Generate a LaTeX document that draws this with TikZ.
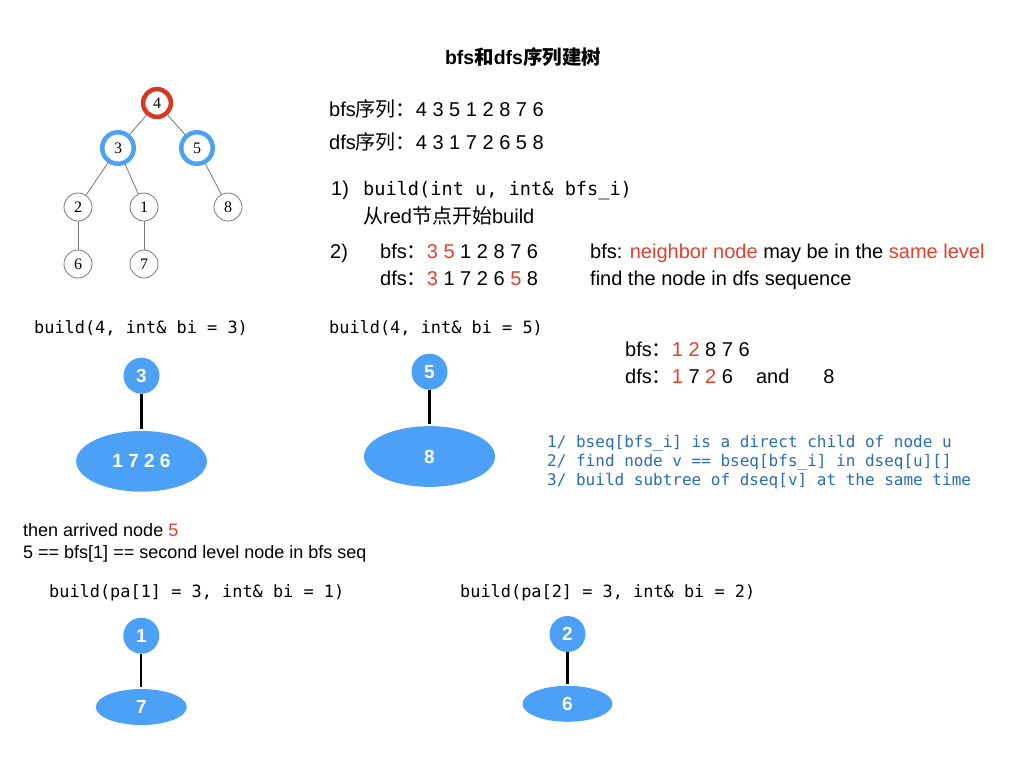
\documentclass[tikz,border=0pt]{standalone}
\usepackage{fontspec}
\setmainfont{Liberation Sans}
\setmonofont{DejaVu Sans Mono}
\newfontfamily\cjk{Noto Sans CJK SC}
\newfontfamily\treeserif{Liberation Serif}
\usetikzlibrary{shapes.geometric}
\definecolor{myred}{RGB}{226,64,44}
\definecolor{ringred}{RGB}{215,55,35}
\definecolor{myblue}{RGB}{76,161,246}
\definecolor{codeblue}{RGB}{44,108,178}
\definecolor{treegray}{RGB}{120,120,120}
\newcommand{\zh}[1]{{\cjk #1}}
\newcommand{\rd}[1]{\textcolor{myred}{#1}}
\begin{document}
\begin{tikzpicture}[x=1pt,y=-1pt,
  txt/.style={anchor=base west, inner sep=0pt, font=\fontsize{20}{24}\selectfont},
  txts/.style={anchor=base west, inner sep=0pt, font=\fontsize{18}{22}\selectfont},
  codebig/.style={anchor=base west, inner sep=0pt, font=\ttfamily\fontsize{18.6}{22}\selectfont},
  code/.style={anchor=base west, inner sep=0pt, font=\ttfamily\fontsize{16.9}{20}\selectfont},
  codeb/.style={anchor=base west, inner sep=0pt, align=left, text=codeblue, font=\ttfamily\fontsize{16}{19}\selectfont},
  tnode/.style={circle, draw=treegray, line width=0.8pt, minimum size=28pt, inner sep=0pt, font=\treeserif\fontsize{16}{16}\selectfont},
  rring/.style={tnode, draw=ringred, line width=4.5pt, minimum size=27.8pt},
  bring/.style={tnode, draw=myblue, line width=4.5pt, minimum size=31.5pt},
  tedge/.style={draw=treegray, line width=0.8pt},
  bcirc/.style={circle, fill=myblue, minimum size=36pt, inner sep=0pt, text=white, font=\bfseries\fontsize{19}{19}\selectfont},
  bell/.style={ellipse, fill=myblue, inner sep=0pt, text=white, font=\bfseries\fontsize{19}{19}\selectfont},
  bedge/.style={draw=black, line width=2.2pt, shorten >=2pt}
]
\useasboundingbox (0,0) rectangle (1024,768);

% title
\node[anchor=base, inner sep=0pt, font=\bfseries\fontsize{19.5}{24}\selectfont] (title) at (523,64) {bfs{\cjk\bfseries 和}dfs{\cjk\bfseries 序列建树}};

% small tree
\node[rring] (n4) at (157,103) {4};
\node[bring] (n3) at (118,148) {3};
\node[bring] (n5) at (197,148) {5};
\node[tnode] (n2) at (78,207) {2};
\node[tnode] (n1) at (144,207) {1};
\node[tnode] (n8) at (228,207) {8};
\node[tnode] (n6) at (78,264) {6};
\node[tnode] (n7) at (144,264) {7};
\draw[tedge] (n4) -- (n3);
\draw[tedge] (n4) -- (n5);
\draw[tedge] (n3) -- (n2);
\draw[tedge] (n3) -- (n1);
\draw[tedge] (n5) -- (n8);
\draw[tedge] (n2) -- (n6);
\draw[tedge] (n1) -- (n7);

% sequences
\node[txt] (bseq) at (329,116) {bfs\zh{序列：}4 3 5 1 2 8 7 6};
\node[txt] (dseq) at (329,149) {dfs\zh{序列：}4 3 1 7 2 6 5 8};

\node[txt] (s1) at (331,195) {1)};
\node[codebig] (sig) at (363,195) {build(int u, int\& bfs\_i)};
\node[txt] (red) at (363,223) {\zh{从}red\zh{节点开始}build};

\node[txt] (s2) at (330,258) {2)};
\node[txt] (b2) at (380,258) {bfs\zh{：}\rd{3 5} 1 2 8 7 6};
\node[txt] (d2) at (380,285) {dfs\zh{：}\rd{3} 1 7 2 6 \rd{5} 8};
\node[txt] (note1) at (590,258) {bfs: \rd{neighbor node} may be in the \rd{same level}};
\node[txt] (note2) at (590,285) {find the node in dfs sequence};

% calls
\node[code] (call3) at (34,333) {build(4, int\& bi = 3)};
\node[code] (call5) at (329,333) {build(4, int\& bi = 5)};

\node[txt] (b3) at (625,356) {bfs\zh{：}\rd{1 2} 8 7 6};
\node[txt] (d3) at (625,383) {dfs\zh{：}\rd{1} 7 \rd{2} 6\hspace{23pt}and\hspace{34pt}8};

\node[codeb] (rule1) at (547,447) {1/ bseq[bfs\_i] is a direct child of node u};
\node[codeb] (rule2) at (547,466) {2/ find node v == bseq[bfs\_i] in dseq[u][]};
\node[codeb] (rule3) at (547,485) {3/ build subtree of dseq[v] at the same time};

% blue subtrees
\node[bcirc] (c3) at (141.5,375.7) {3};
\node[bell, minimum width=130.7pt, minimum height=60.7pt] (e3) at (141.5,461.3) {1 7 2 6};
\draw[bedge] (c3.south) -- (e3.north);

\node[bcirc] (c5) at (429.5,371.7) {5};
\node[bell, minimum width=131pt, minimum height=60.7pt] (e5) at (429.5,456.5) {8};
\draw[bedge] (c5.south) -- (e5.north);

\node[txts] (arr) at (23,536) {then arrived node \rd{5}};
\node[txts] (lvl) at (23,558) {5 == bfs[1] == second level node in bfs seq};

\node[code] (callp1) at (49,597) {build(pa[1] = 3, int\& bi = 1)};
\node[code] (callp2) at (460,597) {build(pa[2] = 3, int\& bi = 2)};

\node[bcirc] (c1) at (141.3,635.7) {1};
\node[bell, minimum width=91pt, minimum height=36pt] (e1) at (141.3,707) {7};
\draw[bedge] (c1.south) -- (e1.north);

\node[bcirc] (c2) at (567.5,634) {2};
\node[bell, minimum width=90pt, minimum height=36pt] (e2) at (567.5,703.8) {6};
\draw[bedge] (c2.south) -- (e2.north);
\end{tikzpicture}
\end{document}
